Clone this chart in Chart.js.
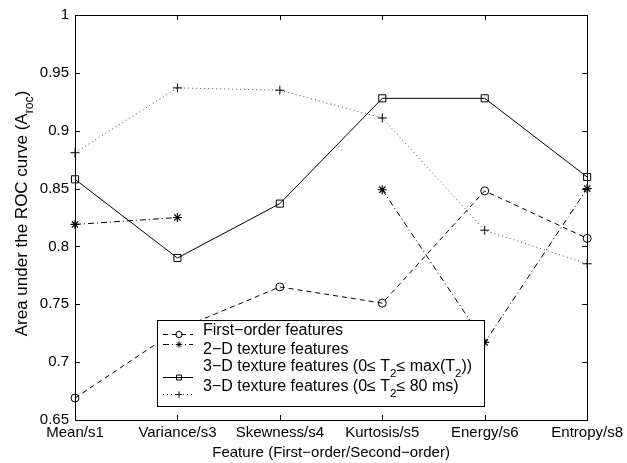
<!DOCTYPE html>
<html>
<head>
<meta charset="utf-8">
<script src="https://cdn.jsdelivr.net/npm/chart.js@4.4.1/dist/chart.umd.min.js"></script>
<style>
  html, body { margin: 0; padding: 0; background: #fff; }
  #wrap { width: 627px; height: 463px; }
</style>
</head>
<body>
<div id="wrap"><canvas id="myChart" width="627" height="463"></canvas></div>
<script>
const features = ['Mean/s1', 'Variance/s3', 'Skewness/s4', 'Kurtosis/s5', 'Energy/s6', 'Entropy/s8'];
const firstOrder = [0.669, 0.728, 0.765, 0.751, 0.848, 0.807];
const texture2D = [0.819, 0.825, null, 0.849, 0.717, 0.850];
const texture3DMax = [0.858, 0.790, 0.837, 0.928, 0.928, 0.860];
const texture3D80 = [0.881, 0.937, 0.935, 0.911, 0.814, 0.785];
const yTickValues = [0.65, 0.7, 0.75, 0.8, 0.85, 0.9, 0.95, 1];

const FONT = '"Liberation Sans", Arial, Helvetica, sans-serif';

const datasets = [
    {
        label: 'First−order features',
        data: firstOrder,
        borderColor: '#000',
        borderWidth: 1,
        borderDash: [5, 4],
        pointStyle: 'circle',
        pointRadius: 4,
        pointBorderColor: '#000',
        pointBackgroundColor: 'rgba(0,0,0,0)',
        pointBorderWidth: 1
    },
    {
        label: '2−D texture features',
        data: texture2D,
        borderColor: '#000',
        borderWidth: 1,
        borderDash: [6, 3, 1, 3],
        spanGaps: false,
        pointStyle: 'star',
        pointRadius: 4.5,
        pointBorderColor: '#000',
        pointBackgroundColor: 'rgba(0,0,0,0)',
        pointBorderWidth: 1.2
    },
    {
        label: '3−D texture features (0≤ T2≤ max(T2))',
        data: texture3DMax,
        borderColor: '#000',
        borderWidth: 1,
        pointStyle: 'rect',
        pointRadius: 5,
        pointBorderColor: '#000',
        pointBackgroundColor: 'rgba(0,0,0,0)',
        pointBorderWidth: 1
    },
    {
        label: '3−D texture features (0≤ T2≤ 80 ms)',
        data: texture3D80,
        borderColor: '#444',
        borderWidth: 1,
        borderDash: [1, 3],
        pointStyle: 'cross',
        pointRadius: 4.5,
        pointBorderColor: '#000',
        pointBackgroundColor: 'rgba(0,0,0,0)',
        pointBorderWidth: 1
    }
];

// pieces of text with subscripts: [text, isSub]
const legendParts = [
    [['First−order features', false]],
    [['2−D texture features', false]],
    [['3−D texture features (0≤ T', false], ['2', true], ['≤ max(T', false], ['2', true], ['))', false]],
    [['3−D texture features (0≤ T', false], ['2', true], ['≤ 80 ms)', false]]
];
const yTitleParts = [['Area under the ROC curve (A', false], ['roc', true], [')', false]];

function drawParts(ctx, parts, x, y, size) {
    ctx.textAlign = 'left';
    ctx.textBaseline = 'middle';
    parts.forEach(([txt, sub]) => {
        if (sub) {
            ctx.font = (size * 0.72) + 'px ' + FONT;
            ctx.fillText(txt, x, y + size * 0.45);
        } else {
            ctx.font = size + 'px ' + FONT;
            ctx.fillText(txt, x, y);
        }
        x += ctx.measureText(txt).width;
    });
    return x;
}
function partsWidth(ctx, parts, size) {
    let w = 0;
    parts.forEach(([txt, sub]) => {
        ctx.font = (sub ? size * 0.72 : size) + 'px ' + FONT;
        w += ctx.measureText(txt).width;
    });
    return w;
}

const matlabFrame = {
    id: 'matlabFrame',
    afterDraw(chart) {
        const ctx = chart.ctx;
        const a = chart.chartArea;
        const xs = chart.scales.x;
        const ys = chart.scales.y;
        ctx.save();
        ctx.strokeStyle = '#000';
        ctx.lineWidth = 1;
        ctx.strokeRect(Math.round(a.left) + 0.5, Math.round(a.top) + 0.5,
            Math.round(a.right - a.left), Math.round(a.bottom - a.top));
        const tl = 5;
        ctx.beginPath();
        yTickValues.forEach(v => {
            const y = Math.round(ys.getPixelForValue(v)) + 0.5;
            ctx.moveTo(a.left, y); ctx.lineTo(a.left + tl, y);
            ctx.moveTo(a.right, y); ctx.lineTo(a.right - tl, y);
        });
        features.forEach((f, i) => {
            const x = Math.round(xs.getPixelForValue(i)) + 0.5;
            ctx.moveTo(x, a.bottom); ctx.lineTo(x, a.bottom - tl);
            ctx.moveTo(x, a.top); ctx.lineTo(x, a.top + tl);
        });
        ctx.stroke();

        // y axis title with subscript
        ctx.save();
        ctx.fillStyle = '#000';
        const ysize = 17;
        const tw = partsWidth(ctx, yTitleParts, ysize);
        ctx.translate(22, (a.top + a.bottom) / 2 - 4);
        ctx.rotate(-Math.PI / 2);
        drawParts(ctx, yTitleParts, -tw / 2, 0, ysize);
        ctx.restore();

        // legend box
        const lx = 157.5, ly = 320.5, lw = 327, lh = 86;
        ctx.fillStyle = '#fff';
        ctx.fillRect(lx, ly, lw, lh);
        ctx.strokeStyle = '#000';
        ctx.strokeRect(lx, ly, lw, lh);
        const sampleY = [334, 344, 377, 394];
        const textY = [331, 350, 367, 387];
        datasets.forEach((ds, i) => {
            const sy = sampleY[i] + 0.5;
            ctx.save();
            ctx.strokeStyle = ds.borderColor;
            ctx.lineWidth = 1;
            ctx.setLineDash(ds.borderDash || []);
            ctx.beginPath();
            ctx.moveTo(163, sy);
            ctx.lineTo(193, sy);
            ctx.stroke();
            ctx.setLineDash([]);
            ctx.strokeStyle = '#000';
            ctx.fillStyle = 'rgba(0,0,0,0)';
            Chart.helpers.drawPoint(ctx, {
                pointStyle: ds.pointStyle,
                radius: ds.pointStyle === 'rect' ? 3.5 : 3.2,
                borderWidth: 1
            }, 179, sy);
            ctx.restore();
            ctx.fillStyle = '#000';
            drawParts(ctx, legendParts[i], 203, textY[i], 16);
        });
        ctx.restore();
    }
};

const ctx = document.getElementById('myChart').getContext('2d');
new Chart(ctx, {
    type: 'line',
    data: {
        labels: features,
        datasets: datasets
    },
    options: {
        responsive: false,
        animation: false,
        devicePixelRatio: 1,
        layout: {
            padding: { top: 14, right: 36, left: 0, bottom: 0 }
        },
        scales: {
            x: {
                type: 'category',
                offset: false,
                grid: { display: false, drawTicks: false },
                border: { display: false },
                ticks: {
                    autoSkip: false,
                    maxRotation: 0,
                    minRotation: 0,
                    padding: 4,
                    color: '#000',
                    font: { family: FONT, size: 15 }
                },
                title: {
                    display: true,
                    text: 'Feature (First−order/Second−order)',
                    color: '#000',
                    font: { family: FONT, size: 15 },
                    padding: { top: 0, bottom: 1 }
                },
                afterFit: scale => { scale.height = 43; }
            },
            y: {
                min: 0.65,
                max: 1,
                grid: { display: false, drawTicks: false },
                border: { display: false },
                afterBuildTicks: scale => {
                    scale.ticks = yTickValues.map(v => ({ value: v }));
                },
                ticks: {
                    padding: 6,
                    color: '#000',
                    font: { family: FONT, size: 15 },
                    callback: value => String(parseFloat(value.toFixed(2)))
                },
                afterFit: scale => { scale.width = 75; }
            }
        },
        plugins: {
            legend: { display: false },
            tooltip: { enabled: false }
        }
    },
    plugins: [matlabFrame]
});
</script>
</body>
</html>
